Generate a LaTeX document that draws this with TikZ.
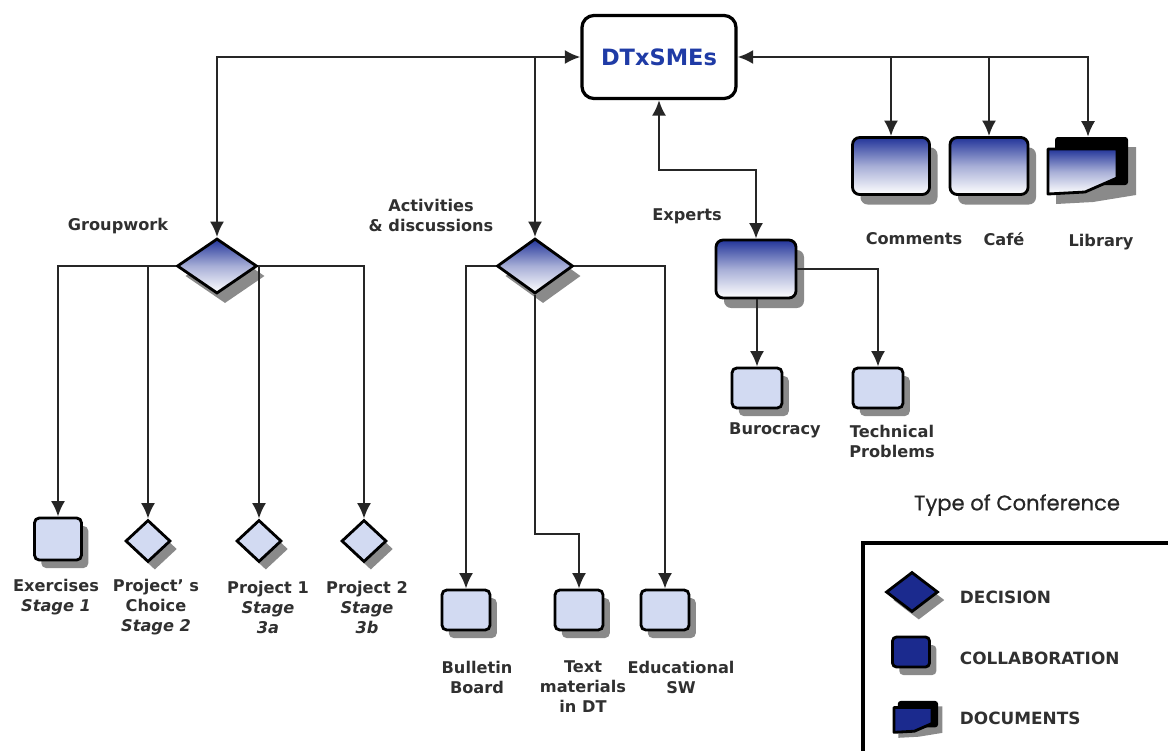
\documentclass[tikz,border=0pt]{standalone}
\usepackage{fontspec}
\setmainfont{DejaVu Sans}
\newfontfamily\titlefont{Poppins}[FakeBold=0.6]
\usepackage{tikz}
\usetikzlibrary{arrows.meta,shapes.geometric,shadows}

\definecolor{dtblue}{HTML}{23359A}
\definecolor{dttext}{HTML}{1F3BA6}
\definecolor{lightfill}{HTML}{D2DAF2}
\definecolor{legblue}{HTML}{1B2A8E}
\definecolor{shadowgray}{HTML}{8A8A8A}
\definecolor{labelgray}{HTML}{303030}

\tikzset{
  conn/.style={line width=1.6pt, draw=black!85},
  outline/.style={draw=black, line width=2pt, inner sep=0pt},
  bigshadow/.style={drop shadow={shadow xshift=0.2cm, shadow yshift=-0.25cm, fill=shadowgray, opacity=1}},
  smallshadow/.style={drop shadow={shadow xshift=0.17cm, shadow yshift=-0.2cm, fill=shadowgray, opacity=1}},
  blueshade/.style={top color=dtblue, bottom color=white, middle color=dtblue!40},
  collab/.style={rectangle, outline, rounded corners=0.18cm, blueshade, bigshadow},
  smallbox/.style={rectangle, outline, rounded corners=0.12cm, fill=lightfill, smallshadow,
    minimum width=1.2cm, minimum height=1cm},
  decision/.style={diamond, outline, blueshade, bigshadow},
  smalldec/.style={diamond, outline, fill=lightfill, smallshadow,
    minimum width=1.125cm, minimum height=1.05cm},
  lbl/.style={align=center, text=labelgray, font=\fontsize{11.5}{14.2}\selectfont\bfseries},
  legtext/.style={anchor=west, text=labelgray, font=\fontsize{12}{14}\selectfont\bfseries},
}

% document symbol: back sheet, slanted front sheet and its shadow
\newcommand\docsymbol[3]{%
  \begin{scope}[shift={#1}, scale=#2]
    \fill[shadowgray] (-32,-21) -- (48,-21) -- (48,27) -- (5,34) -- (-32,36) -- cycle;
    \fill[black, rounded corners=2pt] (-33,-31) rectangle (40,17);
    \draw[line width=2pt, line join=round, #3] (-40,-19) -- (29,-19) -- (29,10) -- (-3,24) -- (-40,26) -- cycle;
  \end{scope}}

\begin{document}
\begin{tikzpicture}[x=0.025cm, y=-0.025cm, >={Latex[length=11pt,width=10pt]}]
  \useasboundingbox (0,0) rectangle (1168,751);

  % main node
  \node[rectangle, outline, line width=2.3pt, rounded corners=0.3cm, fill=white,
        minimum width=3.85cm, minimum height=2.075cm,
        text=dttext, font=\fontsize{16}{18}\selectfont\bfseries] (dt) at (659,57) {DTxSMEs};

  % decisions
  \node[decision, minimum width=2cm, minimum height=1.375cm] (gw) at (217,266) {};
  \node[decision, minimum width=1.9cm, minimum height=1.375cm] (ad) at (535,266) {};

  % collaborations
  \node[collab, minimum width=2cm, minimum height=1.45cm] (ex) at (756,269) {};
  \node[collab, minimum width=1.925cm, minimum height=1.425cm] (com) at (891,166) {};
  \node[collab, minimum width=1.95cm, minimum height=1.425cm] (caf) at (989,166) {};
  \node[minimum width=2cm, minimum height=1.55cm, inner sep=0pt] (lib) at (1088,168) {};
  \docsymbol{(lib.center)}{1}{blueshade}

  \node[smallbox, minimum width=1.25cm] (bur) at (757,388) {};
  \node[smallbox, minimum width=1.25cm] (tec) at (878,388) {};

  \node[smallbox, minimum width=1.175cm, minimum height=1.05cm] (ex1) at (58,539) {};
  \node[smalldec] (pc) at (148,541) {};
  \node[smalldec] (p1) at (259,541) {};
  \node[smalldec] (p2) at (364,541) {};

  \node[smallbox] (bb) at (466,610) {};
  \node[smallbox] (tm) at (579,610) {};
  \node[smallbox] (es) at (665,610) {};

  % connectors
  \draw[conn, <->] (gw.north) |- (dt.west);
  \draw[conn, ->] (ad.north |- dt.west) -- (ad.north);
  \draw[conn, <->] (dt.east) -| (lib.north);
  \draw[conn, ->] (com.north |- dt.east) -- (com.north);
  \draw[conn, ->] (caf.north |- dt.east) -- (caf.north);
  \draw[conn, <->] (dt.south) -- ++(0,70) -| (ex.north);
  \draw[conn, ->] (bur.north |- ex.south) -- (bur.north);
  \draw[conn, ->] (ex.east) -| (tec.north);

  \draw[conn, ->] (gw.west) -| (ex1.north);
  \draw[conn, ->] (pc.north |- gw.west) -- (pc.north);
  \draw[conn, ->] (p1.north |- gw.east) -- (p1.north);
  \draw[conn, ->] (gw.east) -| (p2.north);

  \draw[conn, ->] (ad.west) -| (bb.north);
  \draw[conn, ->] (ad.south) -- ++(0,239) -| (tm.north);
  \draw[conn, ->] (ad.east) -| (es.north);

  % labels
  \node[lbl] (gwl) at (118,226) {Groupwork};
  \node[lbl] (adl) at (431,215) {Activities\\\& discussions};
  \node[lbl] (exl) at (687,216) {Experts};
  \node[lbl] (coml) at (914,239) {Comments};
  \node[lbl] (cafl) at (1004,239) {Café};
  \node[lbl] (libl) at (1101,242) {Library};
  \node[lbl] (burl) at (775,430) {Burocracy};
  \node[lbl] (tecl) at (892,441) {Technical\\Problems};
  \node[lbl] (ex1l) at (56,597) {Exercises\\\textit{Stage 1}};
  \node[lbl] (pcl) at (156,607) {Project' s\\Choice\\\textit{Stage 2}};
  \node[lbl] (p1l) at (268,607) {Project 1\\\textit{Stage}\\\textit{3a}};
  \node[lbl] (p2l) at (367,607) {Project 2\\\textit{Stage}\\\textit{3b}};
  \node[lbl] (bbl) at (477,677) {Bulletin\\Board};
  \node[lbl] (tml) at (583,687) {Text\\materials\\in DT};
  \node[lbl] (esl) at (681,677) {Educational\\SW};

  % legend
  \node[text=black!85, font=\titlefont\fontsize{15}{18}\selectfont] (legt) at (1017,505) {Type of Conference};
  \draw[line width=2.2pt] (1168,543) -- (863,543) -- (863,751);
  \node[diamond, outline, fill=legblue, smallshadow, minimum width=1.3cm, minimum height=1cm] (ldec) at (912,592) {};
  \node[rectangle, outline, rounded corners=0.1cm, fill=legblue, smallshadow,
        minimum width=0.925cm, minimum height=0.75cm] (lcol) at (911,652) {};
  \node[minimum width=1.1cm, minimum height=0.9cm, inner sep=0pt] (ldoc) at (916,718) {};
  \docsymbol{(ldoc.center)}{0.55}{fill=legblue}
  \node[legtext] (ldect) at (955,597) {DECISION};
  \node[legtext] (lcolt) at (955,658) {COLLABORATION};
  \node[legtext] (ldoct) at (955,718) {DOCUMENTS};
\end{tikzpicture}
\end{document}
